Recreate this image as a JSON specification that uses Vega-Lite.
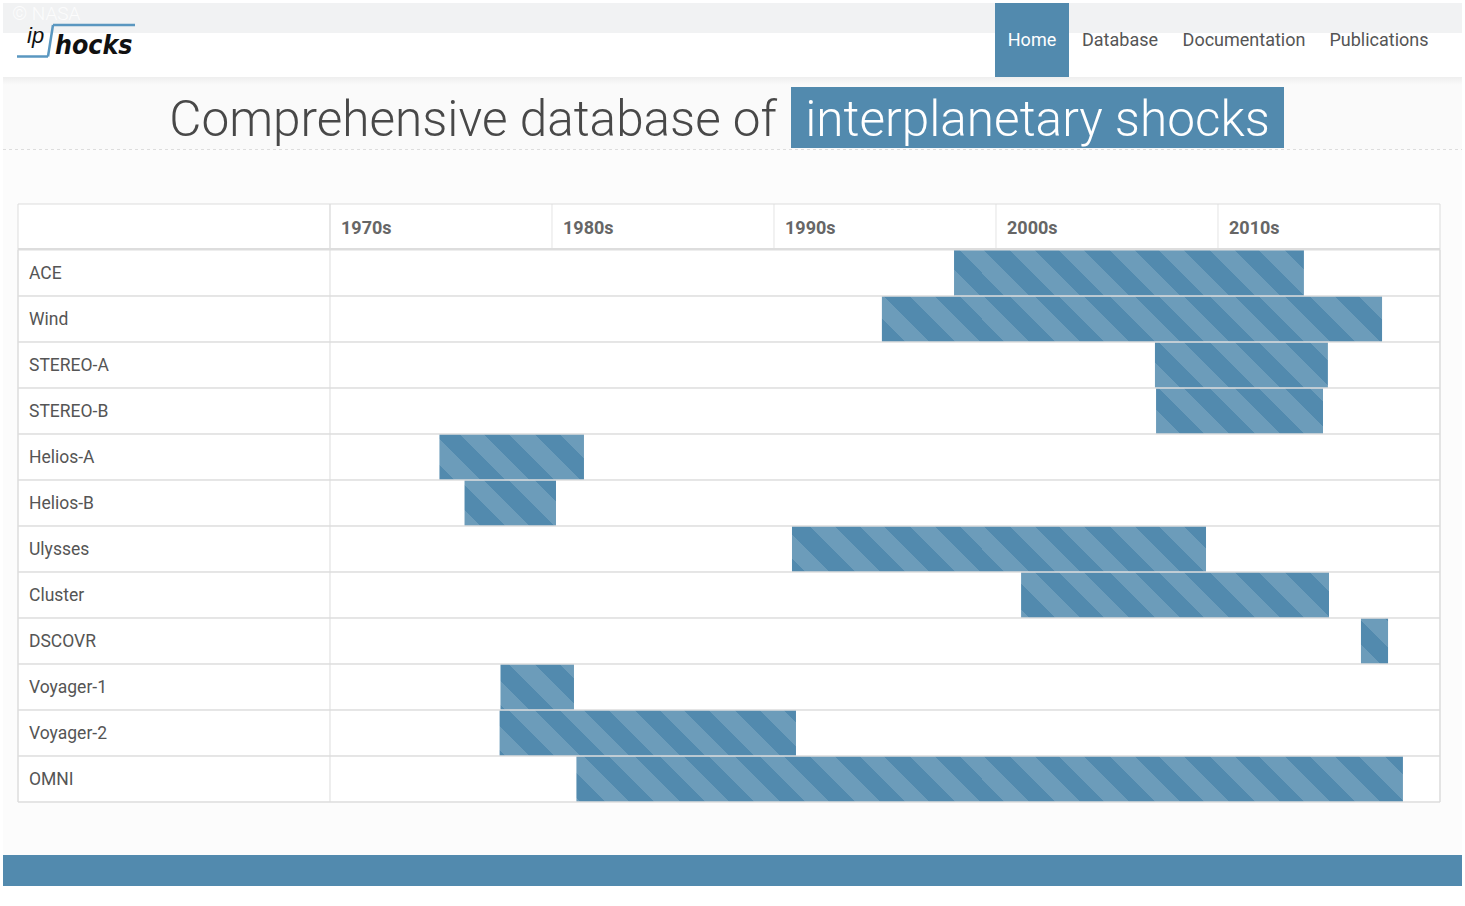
{
"$schema": "https://vega.github.io/schema/vega-lite/v6.json",
"width": 1465, "height": 906, "autosize": {"type": "none"}, "padding": 0, "background": "#ffffff",
"config": {"view": {"stroke": null}, "text": {"font": "Roboto"}},
"data": {"values": [{}]},
"datasets": {
 "missions": [
  {"craft": "ACE", "start": 1998.11, "end": 2013.87},
  {"craft": "Wind", "start": 1994.86, "end": 2017.39},
  {"craft": "STEREO-A", "start": 2007.16, "end": 2014.95},
  {"craft": "STEREO-B", "start": 2007.21, "end": 2014.73},
  {"craft": "Helios-A", "start": 1974.93, "end": 1981.44},
  {"craft": "Helios-B", "start": 1976.06, "end": 1980.18},
  {"craft": "Ulysses", "start": 1990.81, "end": 2009.46},
  {"craft": "Cluster", "start": 2001.13, "end": 2015.0},
  {"craft": "DSCOVR", "start": 2016.44, "end": 2017.66},
  {"craft": "Voyager-1", "start": 1977.68, "end": 1980.99},
  {"craft": "Voyager-2", "start": 1977.64, "end": 1990.99},
  {"craft": "OMNI", "start": 1981.10, "end": 2018.33}
 ],
 "decades": [
  {"decade": "1970s", "year": 1970},
  {"decade": "1980s", "year": 1980},
  {"decade": "1990s", "year": 1990},
  {"decade": "2000s", "year": 2000},
  {"decade": "2010s", "year": 2010}
 ]
},
"layer": [
 {"layer": [
  {"mark": {"type": "rect", "fill": "#f1f2f3"},
   "encoding": {"x": {"datum": 1955.27027, "type": "quantitative", "axis": null, "scale": {"domain": [1955.13514, 2021.12613], "nice": false, "zero": false}}, "x2": {"datum": 2020.99099},
                "y": {"datum": -4.36957, "type": "quantitative", "axis": null, "scale": {"domain": [-4.43478, 15.26087], "nice": false, "zero": false, "reverse": true}}, "y2": {"datum": -3.71739}}},
  {"mark": {"type": "text", "text": "© NASA", "font": "Roboto Light, Roboto", "fontSize": 19, "fontWeight": 300, "fill": "#ffffff", "opacity": 0.8, "align": "left", "baseline": "alphabetic"},
   "encoding": {"x": {"datum": 1955.67568, "type": "quantitative", "axis": null, "scale": {"domain": [1955.13514, 2021.12613], "nice": false, "zero": false}},
                "y": {"datum": -4.0, "type": "quantitative", "axis": null, "scale": {"domain": [-4.43478, 15.26087], "nice": false, "zero": false, "reverse": true}}}},
  {"mark": {"type": "rect", "fill": "#528aae"},
   "encoding": {"x": {"datum": 1999.95495, "type": "quantitative", "axis": null, "scale": {"domain": [1955.13514, 2021.12613], "nice": false, "zero": false}}, "x2": {"datum": 2003.28829},
                "y": {"datum": -4.36957, "type": "quantitative", "axis": null, "scale": {"domain": [-4.43478, 15.26087], "nice": false, "zero": false, "reverse": true}}, "y2": {"datum": -2.76087}}},
  {"mark": {"type": "text", "text": "Home", "fontSize": 18, "fill": "#ffffff", "align": "center", "baseline": "alphabetic"},
   "encoding": {"x": {"datum": 2001.62162, "type": "quantitative", "axis": null, "scale": {"domain": [1955.13514, 2021.12613], "nice": false, "zero": false}},
                "y": {"datum": -3.43478, "type": "quantitative", "axis": null, "scale": {"domain": [-4.43478, 15.26087], "nice": false, "zero": false, "reverse": true}}}},
  {"mark": {"type": "text", "text": "Database", "fontSize": 18, "fill": "#555555", "align": "center", "baseline": "alphabetic"},
   "encoding": {"x": {"datum": 2005.58559, "type": "quantitative", "axis": null, "scale": {"domain": [1955.13514, 2021.12613], "nice": false, "zero": false}},
                "y": {"datum": -3.43478, "type": "quantitative", "axis": null, "scale": {"domain": [-4.43478, 15.26087], "nice": false, "zero": false, "reverse": true}}}},
  {"mark": {"type": "text", "text": "Documentation", "fontSize": 18, "fill": "#555555", "align": "center", "baseline": "alphabetic"},
   "encoding": {"x": {"datum": 2011.17117, "type": "quantitative", "axis": null, "scale": {"domain": [1955.13514, 2021.12613], "nice": false, "zero": false}},
                "y": {"datum": -3.43478, "type": "quantitative", "axis": null, "scale": {"domain": [-4.43478, 15.26087], "nice": false, "zero": false, "reverse": true}}}},
  {"mark": {"type": "text", "text": "Publications", "fontSize": 18, "fill": "#555555", "align": "center", "baseline": "alphabetic"},
   "encoding": {"x": {"datum": 2017.25225, "type": "quantitative", "axis": null, "scale": {"domain": [1955.13514, 2021.12613], "nice": false, "zero": false}},
                "y": {"datum": -3.43478, "type": "quantitative", "axis": null, "scale": {"domain": [-4.43478, 15.26087], "nice": false, "zero": false, "reverse": true}}}},
  {"mark": {"type": "rule", "stroke": "#5a97c0", "strokeWidth": 2.5},
   "encoding": {"x": {"datum": 1955.90090, "type": "quantitative", "axis": null, "scale": {"domain": [1955.13514, 2021.12613], "nice": false, "zero": false}}, "x2": {"datum": 1957.29730},
                "y": {"datum": -3.20652, "type": "quantitative", "axis": null, "scale": {"domain": [-4.43478, 15.26087], "nice": false, "zero": false, "reverse": true}}, "y2": {"datum": -3.20652}}},
  {"mark": {"type": "rule", "stroke": "#5a97c0", "strokeWidth": 2.5},
   "encoding": {"x": {"datum": 1957.29730, "type": "quantitative", "axis": null, "scale": {"domain": [1955.13514, 2021.12613], "nice": false, "zero": false}}, "x2": {"datum": 1957.52252},
                "y": {"datum": -3.20652, "type": "quantitative", "axis": null, "scale": {"domain": [-4.43478, 15.26087], "nice": false, "zero": false, "reverse": true}}, "y2": {"datum": -3.89130}}},
  {"mark": {"type": "rule", "stroke": "#5a97c0", "strokeWidth": 2.5},
   "encoding": {"x": {"datum": 1957.52252, "type": "quantitative", "axis": null, "scale": {"domain": [1955.13514, 2021.12613], "nice": false, "zero": false}}, "x2": {"datum": 1961.21622},
                "y": {"datum": -3.89130, "type": "quantitative", "axis": null, "scale": {"domain": [-4.43478, 15.26087], "nice": false, "zero": false, "reverse": true}}, "y2": {"datum": -3.89130}}},
  {"mark": {"type": "text", "text": "ip", "font": "Liberation Sans", "fontSize": 22, "fontStyle": "italic", "fill": "#111111", "align": "left", "baseline": "alphabetic"},
   "encoding": {"x": {"datum": 1956.35135, "type": "quantitative", "axis": null, "scale": {"domain": [1955.13514, 2021.12613], "nice": false, "zero": false}},
                "y": {"datum": -3.50, "type": "quantitative", "axis": null, "scale": {"domain": [-4.43478, 15.26087], "nice": false, "zero": false, "reverse": true}}}},
  {"mark": {"type": "text", "text": "hocks", "font": "Liberation Sans Narrow, DejaVu Sans Condensed, Roboto", "fontSize": 26.5, "fontStyle": "italic", "fontWeight": "bold", "fill": "#111111", "align": "left", "baseline": "alphabetic"},
   "encoding": {"x": {"datum": 1957.61261, "type": "quantitative", "axis": null, "scale": {"domain": [1955.13514, 2021.12613], "nice": false, "zero": false}},
                "y": {"datum": -3.25, "type": "quantitative", "axis": null, "scale": {"domain": [-4.43478, 15.26087], "nice": false, "zero": false, "reverse": true}}}},
  {"mark": {"type": "rect", "fill": "#fafafa"},
   "encoding": {"x": {"datum": 1955.27027, "type": "quantitative", "axis": null, "scale": {"domain": [1955.13514, 2021.12613], "nice": false, "zero": false}}, "x2": {"datum": 2020.99099},
                "y": {"datum": -2.76087, "type": "quantitative", "axis": null, "scale": {"domain": [-4.43478, 15.26087], "nice": false, "zero": false, "reverse": true}}, "y2": {"datum": -1.19565}}},
  {"mark": {"type": "rect", "fill": {"gradient": "linear", "x1": 0, "y1": 0, "x2": 0, "y2": 1, "stops": [{"offset": 0, "color": "#eeeeee"}, {"offset": 1, "color": "#fafafa"}]}},
   "encoding": {"x": {"datum": 1955.27027, "type": "quantitative", "axis": null, "scale": {"domain": [1955.13514, 2021.12613], "nice": false, "zero": false}}, "x2": {"datum": 2020.99099},
                "y": {"datum": -2.76087, "type": "quantitative", "axis": null, "scale": {"domain": [-4.43478, 15.26087], "nice": false, "zero": false, "reverse": true}}, "y2": {"datum": -2.58696}}},
  {"mark": {"type": "rect", "fill": "#fcfcfc"},
   "encoding": {"x": {"datum": 1955.27027, "type": "quantitative", "axis": null, "scale": {"domain": [1955.13514, 2021.12613], "nice": false, "zero": false}}, "x2": {"datum": 2020.99099},
                "y": {"datum": -1.19565, "type": "quantitative", "axis": null, "scale": {"domain": [-4.43478, 15.26087], "nice": false, "zero": false, "reverse": true}}, "y2": {"datum": 14.15217}}},
  {"mark": {"type": "rule", "stroke": "#dddddd", "strokeWidth": 1, "strokeDash": [3, 3]},
   "encoding": {"x": {"datum": 1955.27027, "type": "quantitative", "axis": null, "scale": {"domain": [1955.13514, 2021.12613], "nice": false, "zero": false}}, "x2": {"datum": 2020.99099},
                "y": {"datum": -1.18478, "type": "quantitative", "axis": null, "scale": {"domain": [-4.43478, 15.26087], "nice": false, "zero": false, "reverse": true}}, "y2": {"datum": -1.18478}}},
  {"mark": {"type": "text", "text": "Comprehensive database of", "font": "Roboto Light, Roboto", "fontSize": 49.5, "fontWeight": 300, "fill": "#484848", "align": "right", "baseline": "alphabetic"},
   "encoding": {"x": {"datum": 1990.13514, "type": "quantitative", "axis": null, "scale": {"domain": [1955.13514, 2021.12613], "nice": false, "zero": false}},
                "y": {"datum": -1.47826, "type": "quantitative", "axis": null, "scale": {"domain": [-4.43478, 15.26087], "nice": false, "zero": false, "reverse": true}}}},
  {"mark": {"type": "rect", "fill": "#528aae"},
   "encoding": {"x": {"datum": 1990.76577, "type": "quantitative", "axis": null, "scale": {"domain": [1955.13514, 2021.12613], "nice": false, "zero": false}}, "x2": {"datum": 2012.97297},
                "y": {"datum": -2.54348, "type": "quantitative", "axis": null, "scale": {"domain": [-4.43478, 15.26087], "nice": false, "zero": false, "reverse": true}}, "y2": {"datum": -1.21739}}},
  {"mark": {"type": "text", "text": "interplanetary shocks", "font": "Roboto Light, Roboto", "fontSize": 49.5, "fontWeight": 300, "fill": "#ffffff", "align": "center", "baseline": "alphabetic"},
   "encoding": {"x": {"datum": 2001.86937, "type": "quantitative", "axis": null, "scale": {"domain": [1955.13514, 2021.12613], "nice": false, "zero": false}},
                "y": {"datum": -1.47826, "type": "quantitative", "axis": null, "scale": {"domain": [-4.43478, 15.26087], "nice": false, "zero": false, "reverse": true}}}},
  {"mark": {"type": "rect", "fill": "#ffffff"},
   "encoding": {"x": {"datum": 1955.94595, "type": "quantitative", "axis": null, "scale": {"domain": [1955.13514, 2021.12613], "nice": false, "zero": false}}, "x2": {"datum": 2020},
                "y": {"datum": 0, "type": "quantitative", "axis": null, "scale": {"domain": [-4.43478, 15.26087], "nice": false, "zero": false, "reverse": true}}, "y2": {"datum": 13}}},
  {"data": {"name": "decades"},
   "mark": {"type": "rule", "stroke": "#e4e4e4", "strokeWidth": 1},
   "encoding": {"x": {"field": "year", "type": "quantitative", "axis": null, "scale": {"domain": [1955.13514, 2021.12613], "nice": false, "zero": false}},
                "y": {"datum": 0, "type": "quantitative", "axis": null, "scale": {"domain": [-4.43478, 15.26087], "nice": false, "zero": false, "reverse": true}}, "y2": {"datum": 1}}},
  {"data": {"name": "decades"},
   "mark": {"type": "text", "fontSize": 18, "fontWeight": "bold", "fill": "#666666", "align": "left", "baseline": "middle", "dx": 11},
   "encoding": {"x": {"field": "year", "type": "quantitative", "axis": null, "scale": {"domain": [1955.13514, 2021.12613], "nice": false, "zero": false}},
                "y": {"datum": 0.5435, "type": "quantitative", "axis": null, "scale": {"domain": [-4.43478, 15.26087], "nice": false, "zero": false, "reverse": true}},
                "text": {"field": "decade", "type": "nominal"}}},
  {"mark": {"type": "rect", "fill": "#528aae"},
   "encoding": {"x": {"datum": 1955.27027, "type": "quantitative", "axis": null, "scale": {"domain": [1955.13514, 2021.12613], "nice": false, "zero": false}}, "x2": {"datum": 2020.99099},
                "y": {"datum": 14.15217, "type": "quantitative", "axis": null, "scale": {"domain": [-4.43478, 15.26087], "nice": false, "zero": false, "reverse": true}}, "y2": {"datum": 14.82609}}}
 ]},
 {"data": {"name": "missions"},
  "layer": [
  {"mark": {"type": "rect", "fill": {"gradient": "linear", "x1": 0, "y1": 1, "x2": 1.03967, "y2": 0.95692, "stops": [
    {"offset": 0, "color": "#528aae"}, {"offset": 0.0216, "color": "#528aae"}, {"offset": 0.0216, "color": "#6c9cba"}, {"offset": 0.0433, "color": "#6c9cba"},
    {"offset": 0.0433, "color": "#528aae"}, {"offset": 0.0649, "color": "#528aae"}, {"offset": 0.0649, "color": "#6c9cba"}, {"offset": 0.0865, "color": "#6c9cba"},
    {"offset": 0.0865, "color": "#528aae"}, {"offset": 0.1081, "color": "#528aae"}, {"offset": 0.1081, "color": "#6c9cba"}, {"offset": 0.1298, "color": "#6c9cba"},
    {"offset": 0.1298, "color": "#528aae"}, {"offset": 0.1514, "color": "#528aae"}, {"offset": 0.1514, "color": "#6c9cba"}, {"offset": 0.1730, "color": "#6c9cba"},
    {"offset": 0.1730, "color": "#528aae"}, {"offset": 0.1946, "color": "#528aae"}, {"offset": 0.1946, "color": "#6c9cba"}, {"offset": 0.2163, "color": "#6c9cba"},
    {"offset": 0.2163, "color": "#528aae"}, {"offset": 0.2379, "color": "#528aae"}, {"offset": 0.2379, "color": "#6c9cba"}, {"offset": 0.2595, "color": "#6c9cba"},
    {"offset": 0.2595, "color": "#528aae"}, {"offset": 0.2811, "color": "#528aae"}, {"offset": 0.2811, "color": "#6c9cba"}, {"offset": 0.3028, "color": "#6c9cba"},
    {"offset": 0.3028, "color": "#528aae"}, {"offset": 0.3244, "color": "#528aae"}, {"offset": 0.3244, "color": "#6c9cba"}, {"offset": 0.3460, "color": "#6c9cba"},
    {"offset": 0.3460, "color": "#528aae"}, {"offset": 0.3676, "color": "#528aae"}, {"offset": 0.3676, "color": "#6c9cba"}, {"offset": 0.3893, "color": "#6c9cba"},
    {"offset": 0.3893, "color": "#528aae"}, {"offset": 0.4109, "color": "#528aae"}, {"offset": 0.4109, "color": "#6c9cba"}, {"offset": 0.4325, "color": "#6c9cba"},
    {"offset": 0.4325, "color": "#528aae"}, {"offset": 0.4542, "color": "#528aae"}, {"offset": 0.4542, "color": "#6c9cba"}, {"offset": 0.4758, "color": "#6c9cba"},
    {"offset": 0.4758, "color": "#528aae"}, {"offset": 0.4974, "color": "#528aae"}, {"offset": 0.4974, "color": "#6c9cba"}, {"offset": 0.5190, "color": "#6c9cba"},
    {"offset": 0.5190, "color": "#528aae"}, {"offset": 0.5407, "color": "#528aae"}, {"offset": 0.5407, "color": "#6c9cba"}, {"offset": 0.5623, "color": "#6c9cba"},
    {"offset": 0.5623, "color": "#528aae"}, {"offset": 0.5839, "color": "#528aae"}, {"offset": 0.5839, "color": "#6c9cba"}, {"offset": 0.6055, "color": "#6c9cba"},
    {"offset": 0.6055, "color": "#528aae"}, {"offset": 0.6272, "color": "#528aae"}, {"offset": 0.6272, "color": "#6c9cba"}, {"offset": 0.6488, "color": "#6c9cba"},
    {"offset": 0.6488, "color": "#528aae"}, {"offset": 0.6704, "color": "#528aae"}, {"offset": 0.6704, "color": "#6c9cba"}, {"offset": 0.6920, "color": "#6c9cba"},
    {"offset": 0.6920, "color": "#528aae"}, {"offset": 0.7137, "color": "#528aae"}, {"offset": 0.7137, "color": "#6c9cba"}, {"offset": 0.7353, "color": "#6c9cba"},
    {"offset": 0.7353, "color": "#528aae"}, {"offset": 0.7569, "color": "#528aae"}, {"offset": 0.7569, "color": "#6c9cba"}, {"offset": 0.7785, "color": "#6c9cba"},
    {"offset": 0.7785, "color": "#528aae"}, {"offset": 0.8002, "color": "#528aae"}, {"offset": 0.8002, "color": "#6c9cba"}, {"offset": 0.8218, "color": "#6c9cba"},
    {"offset": 0.8218, "color": "#528aae"}, {"offset": 0.8434, "color": "#528aae"}, {"offset": 0.8434, "color": "#6c9cba"}, {"offset": 0.8651, "color": "#6c9cba"},
    {"offset": 0.8651, "color": "#528aae"}, {"offset": 0.8867, "color": "#528aae"}, {"offset": 0.8867, "color": "#6c9cba"}, {"offset": 0.9083, "color": "#6c9cba"},
    {"offset": 0.9083, "color": "#528aae"}, {"offset": 0.9299, "color": "#528aae"}, {"offset": 0.9299, "color": "#6c9cba"}, {"offset": 0.9516, "color": "#6c9cba"},
    {"offset": 0.9516, "color": "#528aae"}, {"offset": 0.9732, "color": "#528aae"}, {"offset": 0.9732, "color": "#6c9cba"}, {"offset": 0.9948, "color": "#6c9cba"},
    {"offset": 0.9948, "color": "#528aae"}, {"offset": 1, "color": "#528aae"}]}},
   "encoding": {"x": {"datum": 1970, "type": "quantitative", "axis": null, "scale": {"domain": [1955.13514, 2021.12613], "nice": false, "zero": false}}, "x2": {"datum": 2020},
                "y": {"field": "craft", "type": "nominal", "axis": null, "scale": {"type": "band", "domain": ["ACE", "Wind", "STEREO-A", "STEREO-B", "Helios-A", "Helios-B", "Ulysses", "Cluster", "DSCOVR", "Voyager-1", "Voyager-2", "OMNI"], "range": [250, 802], "paddingInner": 0, "paddingOuter": 0}}}},
  {"mark": {"type": "rect", "fill": "#ffffff"},
   "encoding": {"x": {"field": "start", "type": "quantitative", "axis": null, "scale": {"domain": [1955.13514, 2021.12613], "nice": false, "zero": false}}, "x2": {"datum": 1970},
                "y": {"field": "craft", "type": "nominal", "axis": null, "scale": {"type": "band", "domain": ["ACE", "Wind", "STEREO-A", "STEREO-B", "Helios-A", "Helios-B", "Ulysses", "Cluster", "DSCOVR", "Voyager-1", "Voyager-2", "OMNI"], "range": [250, 802], "paddingInner": 0, "paddingOuter": 0}}}},
  {"mark": {"type": "rect", "fill": "#ffffff"},
   "encoding": {"x": {"field": "end", "type": "quantitative", "axis": null, "scale": {"domain": [1955.13514, 2021.12613], "nice": false, "zero": false}}, "x2": {"datum": 2020},
                "y": {"field": "craft", "type": "nominal", "axis": null, "scale": {"type": "band", "domain": ["ACE", "Wind", "STEREO-A", "STEREO-B", "Helios-A", "Helios-B", "Ulysses", "Cluster", "DSCOVR", "Voyager-1", "Voyager-2", "OMNI"], "range": [250, 802], "paddingInner": 0, "paddingOuter": 0}}}},
  {"mark": {"type": "rect", "fill": "transparent", "stroke": "#dddddd", "strokeWidth": 1},
   "encoding": {"x": {"datum": 1955.94595, "type": "quantitative", "axis": null, "scale": {"domain": [1955.13514, 2021.12613], "nice": false, "zero": false}}, "x2": {"datum": 2020},
                "y": {"field": "craft", "type": "nominal", "axis": null, "scale": {"type": "band", "domain": ["ACE", "Wind", "STEREO-A", "STEREO-B", "Helios-A", "Helios-B", "Ulysses", "Cluster", "DSCOVR", "Voyager-1", "Voyager-2", "OMNI"], "range": [250, 802], "paddingInner": 0, "paddingOuter": 0}}}},
  {"mark": {"type": "text", "fontSize": 17.5, "fill": "#555555", "align": "left", "baseline": "middle", "dy": 1},
   "encoding": {"x": {"datum": 1956.44144, "type": "quantitative", "axis": null, "scale": {"domain": [1955.13514, 2021.12613], "nice": false, "zero": false}},
                "y": {"field": "craft", "type": "nominal", "axis": null, "bandPosition": 0.5, "scale": {"type": "band", "domain": ["ACE", "Wind", "STEREO-A", "STEREO-B", "Helios-A", "Helios-B", "Ulysses", "Cluster", "DSCOVR", "Voyager-1", "Voyager-2", "OMNI"], "range": [250, 802], "paddingInner": 0, "paddingOuter": 0}},
                "text": {"field": "craft", "type": "nominal"}}}
 ]},
 {"layer": [
  {"mark": {"type": "rule", "stroke": "#dddddd", "strokeWidth": 1},
   "encoding": {"x": {"datum": 1970, "type": "quantitative", "axis": null, "scale": {"domain": [1955.13514, 2021.12613], "nice": false, "zero": false}},
                "y": {"datum": 0, "type": "quantitative", "axis": null, "scale": {"domain": [-4.43478, 15.26087], "nice": false, "zero": false, "reverse": true}}, "y2": {"datum": 13}}},
  {"mark": {"type": "rule", "stroke": "#dddddd", "strokeWidth": 2},
   "encoding": {"x": {"datum": 1955.94595, "type": "quantitative", "axis": null, "scale": {"domain": [1955.13514, 2021.12613], "nice": false, "zero": false}}, "x2": {"datum": 2020},
                "y": {"datum": 0.97826, "type": "quantitative", "axis": null, "scale": {"domain": [-4.43478, 15.26087], "nice": false, "zero": false, "reverse": true}}, "y2": {"datum": 0.97826}}},
  {"mark": {"type": "rect", "fill": "transparent", "stroke": "#dddddd", "strokeWidth": 1},
   "encoding": {"x": {"datum": 1955.94595, "type": "quantitative", "axis": null, "scale": {"domain": [1955.13514, 2021.12613], "nice": false, "zero": false}}, "x2": {"datum": 2020},
                "y": {"datum": 0, "type": "quantitative", "axis": null, "scale": {"domain": [-4.43478, 15.26087], "nice": false, "zero": false, "reverse": true}}, "y2": {"datum": 13}}}
 ]}
],
"resolve": {"scale": {"y": "independent"}}
}
